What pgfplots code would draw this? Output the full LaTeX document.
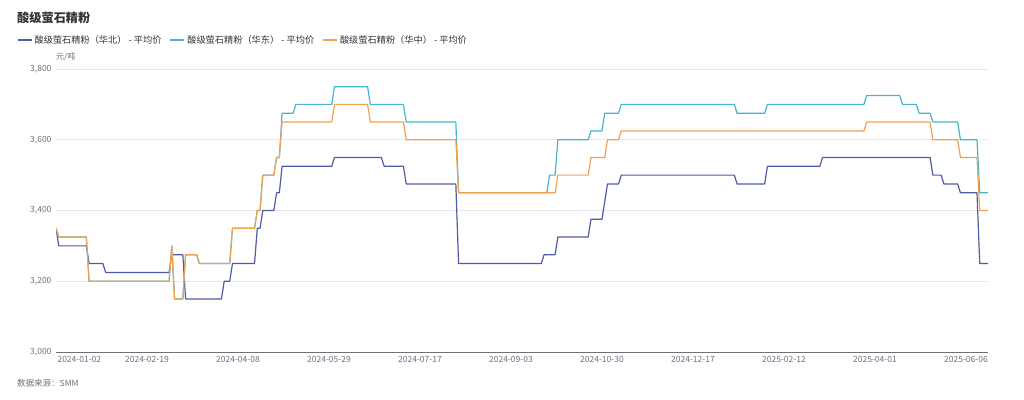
\documentclass[border=0pt]{standalone}
\usepackage{fontspec}
\setmainfont{Noto Sans CJK SC}
\usepackage{pgfplots}
\pgfplotsset{compat=1.18}
\definecolor{cN}{HTML}{4E5BA6}
\definecolor{cE}{HTML}{45B5CF}
\definecolor{cC}{HTML}{F2A14F}
\definecolor{txt}{HTML}{333333}
\definecolor{tickc}{HTML}{6E7079}
\definecolor{gridc}{HTML}{E6E9F0}
\begin{document}
\begin{tikzpicture}
\useasboundingbox (-56pt,-47pt) rectangle (968pt,352pt);
\begin{axis}[
  at={(0pt,0pt)}, anchor=south west,
  scale only axis, width=932pt, height=283pt,
  xmin=0, xmax=338, ymin=3000, ymax=3800,
  ytick={3000,3200,3400,3600,3800},
  ymajorgrids, grid style={gridc, line width=0.8pt},
  axis x line*=bottom, axis y line*=left,
  x axis line style={tickc, line width=0.8pt, -},
  y axis line style={draw=none},
  major tick length=0pt,
  xtick={33,66,99,132,165,198,231,264,297,330},
  xticklabels={2024-02-19,2024-04-08,2024-05-29,2024-07-17,2024-09-03,2024-10-30,2024-12-17,2025-02-12,2025-04-01,2025-06-06},
  extra x ticks={0},
  extra x tick labels={2024-01-02},
  extra x tick style={xticklabel style={anchor=north west, xshift=-2pt}},
  tick label style={font=\fontsize{8.5}{10}\selectfont, text=tickc},
  /pgf/number format/.cd, 1000 sep={,}, assume math mode=true,
  /pgfplots/.cd,
  xticklabel style={yshift=-1pt},
  yticklabel style={xshift=-1pt},
  legend style={at={(-0.0455,1.1025)}, anchor=west, draw=none, fill=none,
    font=\fontsize{9.2}{11}\selectfont, text=txt,
    /tikz/every even column/.append style={column sep=6pt}},
  legend columns=3,
  legend image code/.code={\draw[#1, line width=1.8pt] (0pt,0pt) -- (14pt,0pt);},
  every axis plot/.append style={line width=1.2pt, line join=round},
]
\addplot[cN] coordinates {(0,3350)(1,3300)(11,3300)(12,3250)(17,3250)(18,3225)(41,3225)(42,3275)(46,3275)(47,3150)(60,3150)(61,3200)(63,3200)(64,3250)(72,3250)(73,3350)(74,3350)(75,3400)(79,3400)(80,3450)(81,3450)(82,3525)(100,3525)(101,3550)(118,3550)(119,3525)(126,3525)(127,3475)(145,3475)(146,3250)(176,3250)(177,3275)(181,3275)(182,3325)(193,3325)(194,3375)(198,3375)(200,3475)(204,3475)(205,3500)(246,3500)(247,3475)(257,3475)(258,3525)(277,3525)(278,3550)(317,3550)(318,3500)(321,3500)(322,3475)(327,3475)(328,3450)(334,3450)(335,3250)(338,3250)};
\addlegendentry{酸级萤石精粉（华北） - 平均价}
\addplot[cE] coordinates {(0,3350)(1,3325)(11,3325)(12,3200)(41,3200)(42,3300)(43,3150)(46,3150)(47,3275)(51,3275)(52,3250)(63,3250)(64,3350)(72,3350)(73,3400)(74,3400)(75,3500)(79,3500)(80,3550)(81,3550)(82,3675)(86,3675)(87,3700)(100,3700)(101,3750)(113,3750)(114,3700)(126,3700)(127,3650)(145,3650)(146,3450)(178,3450)(179,3500)(181,3500)(182,3600)(193,3600)(194,3625)(198,3625)(199,3675)(204,3675)(205,3700)(246,3700)(247,3675)(257,3675)(258,3700)(293,3700)(294,3725)(306,3725)(307,3700)(312,3700)(313,3675)(317,3675)(318,3650)(327,3650)(328,3600)(334,3600)(335,3450)(338,3450)};
\addlegendentry{酸级萤石精粉（华东） - 平均价}
\addplot[cC] coordinates {(0,3350)(1,3325)(11,3325)(12,3200)(41,3200)(42,3300)(43,3150)(46,3150)(47,3275)(51,3275)(52,3250)(63,3250)(64,3350)(72,3350)(73,3400)(74,3400)(75,3500)(79,3500)(80,3550)(81,3550)(82,3650)(100,3650)(101,3700)(113,3700)(114,3650)(126,3650)(127,3600)(145,3600)(146,3450)(181,3450)(182,3500)(193,3500)(194,3550)(199,3550)(200,3600)(204,3600)(205,3625)(293,3625)(294,3650)(317,3650)(318,3600)(327,3600)(328,3550)(334,3550)(335,3400)(338,3400)};
\addlegendentry{酸级萤石精粉（华中） - 平均价}
\end{axis}
\node[anchor=west, inner sep=0pt, font=\fontsize{12.2}{14}\selectfont\bfseries, text=txt] at (-39pt,334pt) {酸级萤石精粉};
\node[anchor=west, inner sep=0pt, font=\fontsize{8}{10}\selectfont, text=tickc] at (0pt,295pt) {元/吨};
\node[anchor=west, inner sep=0pt, font=\fontsize{8.5}{10}\selectfont, text=tickc] at (-39pt,-31pt) {数据来源：SMM};
\end{tikzpicture}
\end{document}
